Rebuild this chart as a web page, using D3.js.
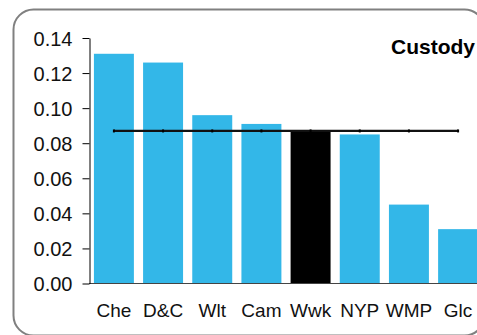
<!DOCTYPE html>
<html>
<head>
<meta charset="utf-8">
<script src="https://cdn.jsdelivr.net/npm/d3@7"></script>
<style>
html,body{margin:0;padding:0;background:#fff;overflow:hidden;}
svg{display:block;font-family:"Liberation Sans",Arial,sans-serif;}
</style>
</head>
<body>
<svg id="chart" width="477" height="335"></svg>
<script>
const categories = ["Che","D&C","Wlt","Cam","Wwk","NYP","WMP","Glc"];
const values = [0.131,0.126,0.096,0.091,0.087,0.085,0.045,0.031];
const highlight = ["Wwk"];
const averageValue = 0.087;
const yTicks = [0,0.02,0.04,0.06,0.08,0.10,0.12,0.14];
const title = "Custody";

const svg = d3.select("#chart");

// rounded border
svg.append("rect")
  .attr("x",13.5).attr("y",9.5)
  .attr("width",471).attr("height",326)
  .attr("rx",20).attr("ry",20)
  .attr("fill","#fff")
  .attr("stroke","#808080").attr("stroke-width",2);

const x = d3.scaleBand().domain(categories).range([89,483]).paddingInner(0.187).paddingOuter(0.1);
const y = d3.scaleLinear().domain([0,0.14]).range([283.5,38]);

// bars
svg.append("g").selectAll("rect").data(categories).join("rect")
  .attr("x",d=>x(d))
  .attr("y",(d,i)=>y(values[i]))
  .attr("width",x.bandwidth())
  .attr("height",(d,i)=>y(0)-y(values[i]))
  .attr("fill",d=>highlight.includes(d)?"#000":"#33b7e8");

// baseline
svg.append("line")
  .attr("x1",89).attr("x2",483)
  .attr("y1",y(0)).attr("y2",y(0))
  .attr("stroke","#444").attr("stroke-width",1);

// y axis
const yAxis = d3.axisLeft(y).tickValues(yTicks).tickFormat(d3.format(".2f")).tickSize(7).tickSizeOuter(0).tickPadding(10);
const ga = svg.append("g").attr("transform","translate(89.5,0)").call(yAxis);
ga.attr("font-family","Liberation Sans, Arial, sans-serif").attr("font-size",20);
ga.select(".domain").attr("stroke","#000");
ga.selectAll(".tick line").attr("stroke","#000");
ga.selectAll("text").attr("font-size",20).attr("fill","#111").attr("dy","0.36em");

// x labels
svg.append("g").selectAll("text").data(categories).join("text")
  .attr("x",d=>x(d)+x.bandwidth()/2)
  .attr("y",317)
  .attr("text-anchor","middle")
  .attr("font-size",19)
  .attr("fill","#111")
  .text(d=>d);

// average line
const lineGen = d3.line().x(d=>x(d)+x.bandwidth()/2).y(()=>y(averageValue));
svg.append("path").datum(categories)
  .attr("d",lineGen)
  .attr("fill","none").attr("stroke","#111").attr("stroke-width",2.2);
svg.append("g").selectAll("rect").data(categories).join("rect")
  .attr("x",d=>x(d)+x.bandwidth()/2-1)
  .attr("y",y(averageValue)-1.5)
  .attr("width",2).attr("height",3)
  .attr("fill","#000");

// title
svg.append("text")
  .attr("x",475).attr("y",54)
  .attr("text-anchor","end")
  .attr("font-size",21).attr("font-weight","bold")
  .attr("fill","#000")
  .text(title);
</script>
</body>
</html>
